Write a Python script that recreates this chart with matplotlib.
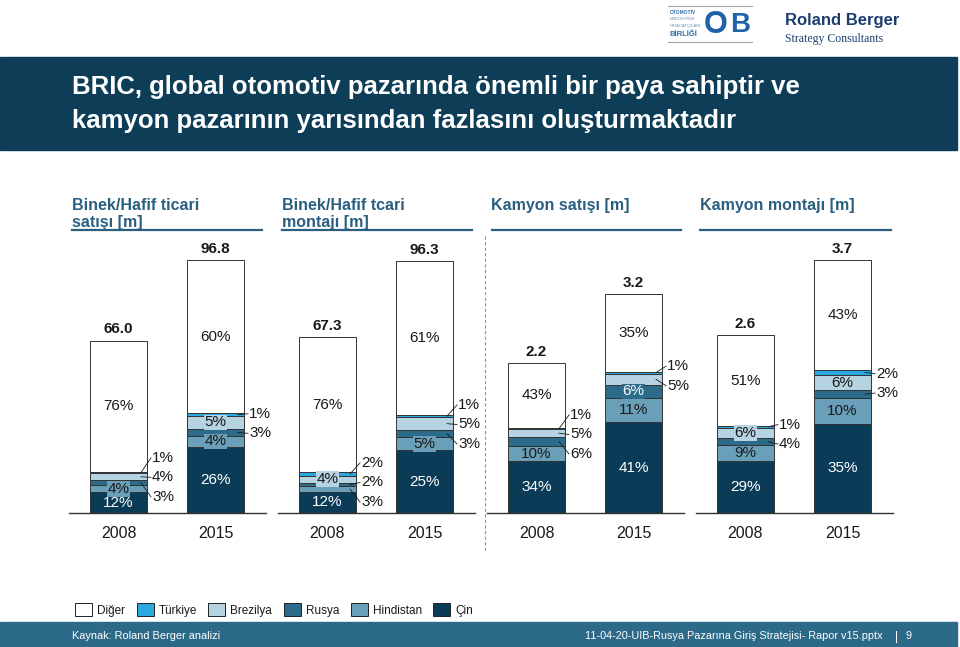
import matplotlib.pyplot as plt
from matplotlib.patches import Rectangle

plt.rcParams['font.family'] = ['Liberation Sans', 'DejaVu Sans']

W, H = 960, 647

# ---- data ----
segments = ['Çin', 'Hindistan', 'Rusya', 'Brezilya', 'Türkiye', 'Diğer']
seg_colors = ['#0b3c57', '#6a9fba', '#2d6b8b', '#b5d3e1', '#2aa8e0', '#ffffff']
legend_order = ['Diğer', 'Türkiye', 'Brezilya', 'Rusya', 'Hindistan', 'Çin']

panel_titles = ['Binek/Hafif ticari\nsatışı [m]', 'Binek/Hafif tcari\nmontajı [m]',
                'Kamyon satışı [m]', 'Kamyon montajı [m]']
years = ['2008', '2015']
totals = [66.0, 96.8, 67.3, 96.3, 2.2, 3.2, 2.6, 3.7]
cin = [12, 26, 12, 25, 34, 41, 29, 35]
hindistan = [4, 4, 3, 5, 10, 11, 9, 10]
rusya = [3, 3, 2, 3, 6, 6, 4, 3]
brezilya = [4, 5, 4, 5, 5, 5, 6, 6]
turkiye = [1, 1, 2, 1, 1, 1, 1, 2]
diger = [76, 60, 76, 61, 43, 35, 51, 43]
# segment labels written beside the bar (index into segments)
outside = [[2, 3, 4], [2, 4], [1, 2, 4], [2, 3, 4], [2, 3, 4], [3, 4], [2, 4], [2, 4]]

# ---- layout (pixels) ----
base_px, top_px = 513, 240
tallest_px = 253
bar_w = 57
first_x, panel_step, bar_step = 118.5, 209, 97
header_x = [72, 282, 491, 700]
underline = [(72, 262), (282, 472), (492, 681), (700, 891)]
legend_x = [75, 137, 208, 284, 351, 433]
header_col = '#2a5f80'
dark = '#1a1a1a'


def fy(y):
    return 1 - y / H


fig = plt.figure(figsize=(W / 100, H / 100), dpi=100)

# title band
fig.patches.append(Rectangle((0, fy(150)), 957 / W, 93 / H, transform=fig.transFigure,
                             color='#0e3d58', zorder=0))
fig.text(72 / W, fy(94), 'BRIC, global otomotiv pazarında önemli bir paya sahiptir ve',
         color='white', fontsize=18.5, fontweight='bold', va='baseline')
fig.text(72 / W, fy(128), 'kamyon pazarının yarısından fazlasını oluşturmaktadır',
         color='white', fontsize=18.5, fontweight='bold', va='baseline')

# logos (text approximation)
fig.add_artist(plt.Line2D([668 / W, 752 / W], [fy(6), fy(6)], color='#9aa7b2', lw=0.8))
fig.add_artist(plt.Line2D([668 / W, 752 / W], [fy(42), fy(42)], color='#9aa7b2', lw=0.8))
fig.text(670 / W, fy(12), 'OTOMOTİV', fontsize=3.5, color='#2f6fa8', fontweight='bold', va='center')
fig.text(670 / W, fy(19), 'ENDÜSTRİSİ', fontsize=3, color='#6b8fb0', va='center')
fig.text(670 / W, fy(26), 'İHRACATÇILARI', fontsize=3, color='#6b8fb0', va='center')
fig.text(670 / W, fy(34), 'BİRLİĞİ', fontsize=5.5, color='#2f6fa8', fontweight='bold', va='center')
fig.text(716 / W, fy(25), 'O', fontsize=22, color='#1f62a8', fontweight='bold', ha='center', va='center')
fig.text(740 / W, fy(25), 'B', fontsize=20, color='#1f62a8', fontweight='bold', ha='center', va='center')
fig.text(785 / W, fy(25), 'Roland Berger', fontsize=12, color='#1c3f6e', fontweight='bold',
         va='baseline')
fig.text(785 / W, fy(39), 'Strategy Consultants', fontsize=8.5, color='#1c3f6e',
         va='center', family=['Liberation Serif', 'DejaVu Serif'])

# section headers
for p, t in enumerate(panel_titles):
    lines = t.split('\n')
    for j, line in enumerate(lines):
        fig.text(header_x[p] / W, fy(210 + 17 * j), line, color=header_col,
                 fontsize=11.5, fontweight='bold', va='baseline')
    x0, x1 = underline[p]
    fig.add_artist(plt.Line2D([x0 / W, x1 / W], [fy(229.5), fy(229.5)], color=header_col, lw=1.6))

# dashed separator between car and truck panels
fig.add_artist(plt.Line2D([485 / W, 485 / W], [fy(236), fy(552)], color='#7f9cb0',
                          lw=0.8, ls=(0, (3, 2))))

# chart axes: one for cars, one for trucks (own scale each)
axes = []
for g in range(2):
    ax = fig.add_axes([0, fy(base_px), 1, (base_px - top_px) / H])
    ax.set_xlim(0, W)
    top = max(totals[g * 4:(g + 1) * 4])
    ax.set_ylim(0, top * (base_px - top_px) / tallest_px)
    ax.axis('off')
    ax.patch.set_alpha(0)
    axes.append(ax)

shares = list(zip(cin, hindistan, rusya, brezilya, turkiye, diger))
text_col = ['white', dark, 'white', dark, dark, dark]

for i in range(8):
    g, p, j = i // 4, i // 2, i % 2
    ax = axes[g]
    ppu = tallest_px / max(totals[g * 4:(g + 1) * 4])
    x = first_x + p * panel_step + j * bar_step
    vals = shares[i]
    s = sum(vals)
    bottom = 0
    centers = []
    for k, v in enumerate(vals):
        h = totals[i] * v / s
        ax.bar(x, h, width=bar_w, bottom=bottom, color=seg_colors[k],
               edgecolor='#333333', linewidth=0.7, zorder=2)
        centers.append(bottom + h / 2)
        if k not in outside[i]:
            box = None
            if h * ppu < 14:
                box = dict(facecolor=seg_colors[k], edgecolor='none', pad=0.6)
            ax.text(x, bottom + h / 2, f'{v}%', ha='center', va='center', fontsize=11,
                    color=text_col[k], bbox=box, zorder=4)
        bottom += h
    ax.text(x, totals[i] + 7 / ppu, f'{totals[i]:.1f}', ha='center', va='baseline',
            fontsize=11, fontweight='bold', color=dark)

    # side labels with leader lines
    outs = sorted(outside[i], reverse=True)
    mid = sum(centers[k] for k in outs) / len(outs)
    step = 19.5 / ppu
    for n, k in enumerate(outs):
        ly = mid + (len(outs) - 1) / 2 * step - n * step
        right = x + bar_w / 2
        ax.plot([right - 6, right + 4], [centers[k], ly], color=dark, lw=0.6,
                zorder=5, clip_on=False)
        ax.text(right + 5, ly, f'{vals[k]}%', ha='left', va='center', fontsize=11,
                color=dark, clip_on=False)

    # baseline and year
    if j == 0:
        x0 = x - 50
        ax.plot([x0, x0 + bar_step + 100], [0, 0], color='#333333', lw=1.0, zorder=3,
                clip_on=False)
    fig.text(x / W, fy(533), years[j], ha='center', va='center', fontsize=11.5, color=dark)

# legend
for n, name in enumerate(legend_order):
    k = segments.index(name)
    lx = legend_x[n]
    fig.patches.append(Rectangle((lx / W, fy(616)), 17 / W, 13 / H, transform=fig.transFigure,
                                 facecolor=seg_colors[k], edgecolor='#222222', lw=0.7))
    fig.text((lx + 22) / W, fy(614), name, fontsize=8.5, color=dark, va='baseline')

# footer
fig.patches.append(Rectangle((0, 0), 957 / W, 25 / H, transform=fig.transFigure,
                             color='#2c6a89', zorder=0))
fig.text(72 / W, fy(639), 'Kaynak: Roland Berger analizi', fontsize=7.9, color='white',
         va='baseline')
fig.text(883 / W, fy(639), '11-04-20-UIB-Rusya Pazarına Giriş Stratejisi- Rapor v15.pptx',
         fontsize=7.8, color='white', va='baseline', ha='right')
fig.text(896 / W, fy(640), '|', fontsize=8.5, color='white', va='baseline', ha='center')
fig.text(909 / W, fy(639), '9', fontsize=7.8, color='white', va='baseline', ha='center')

fig.savefig('out.png', dpi=100)
